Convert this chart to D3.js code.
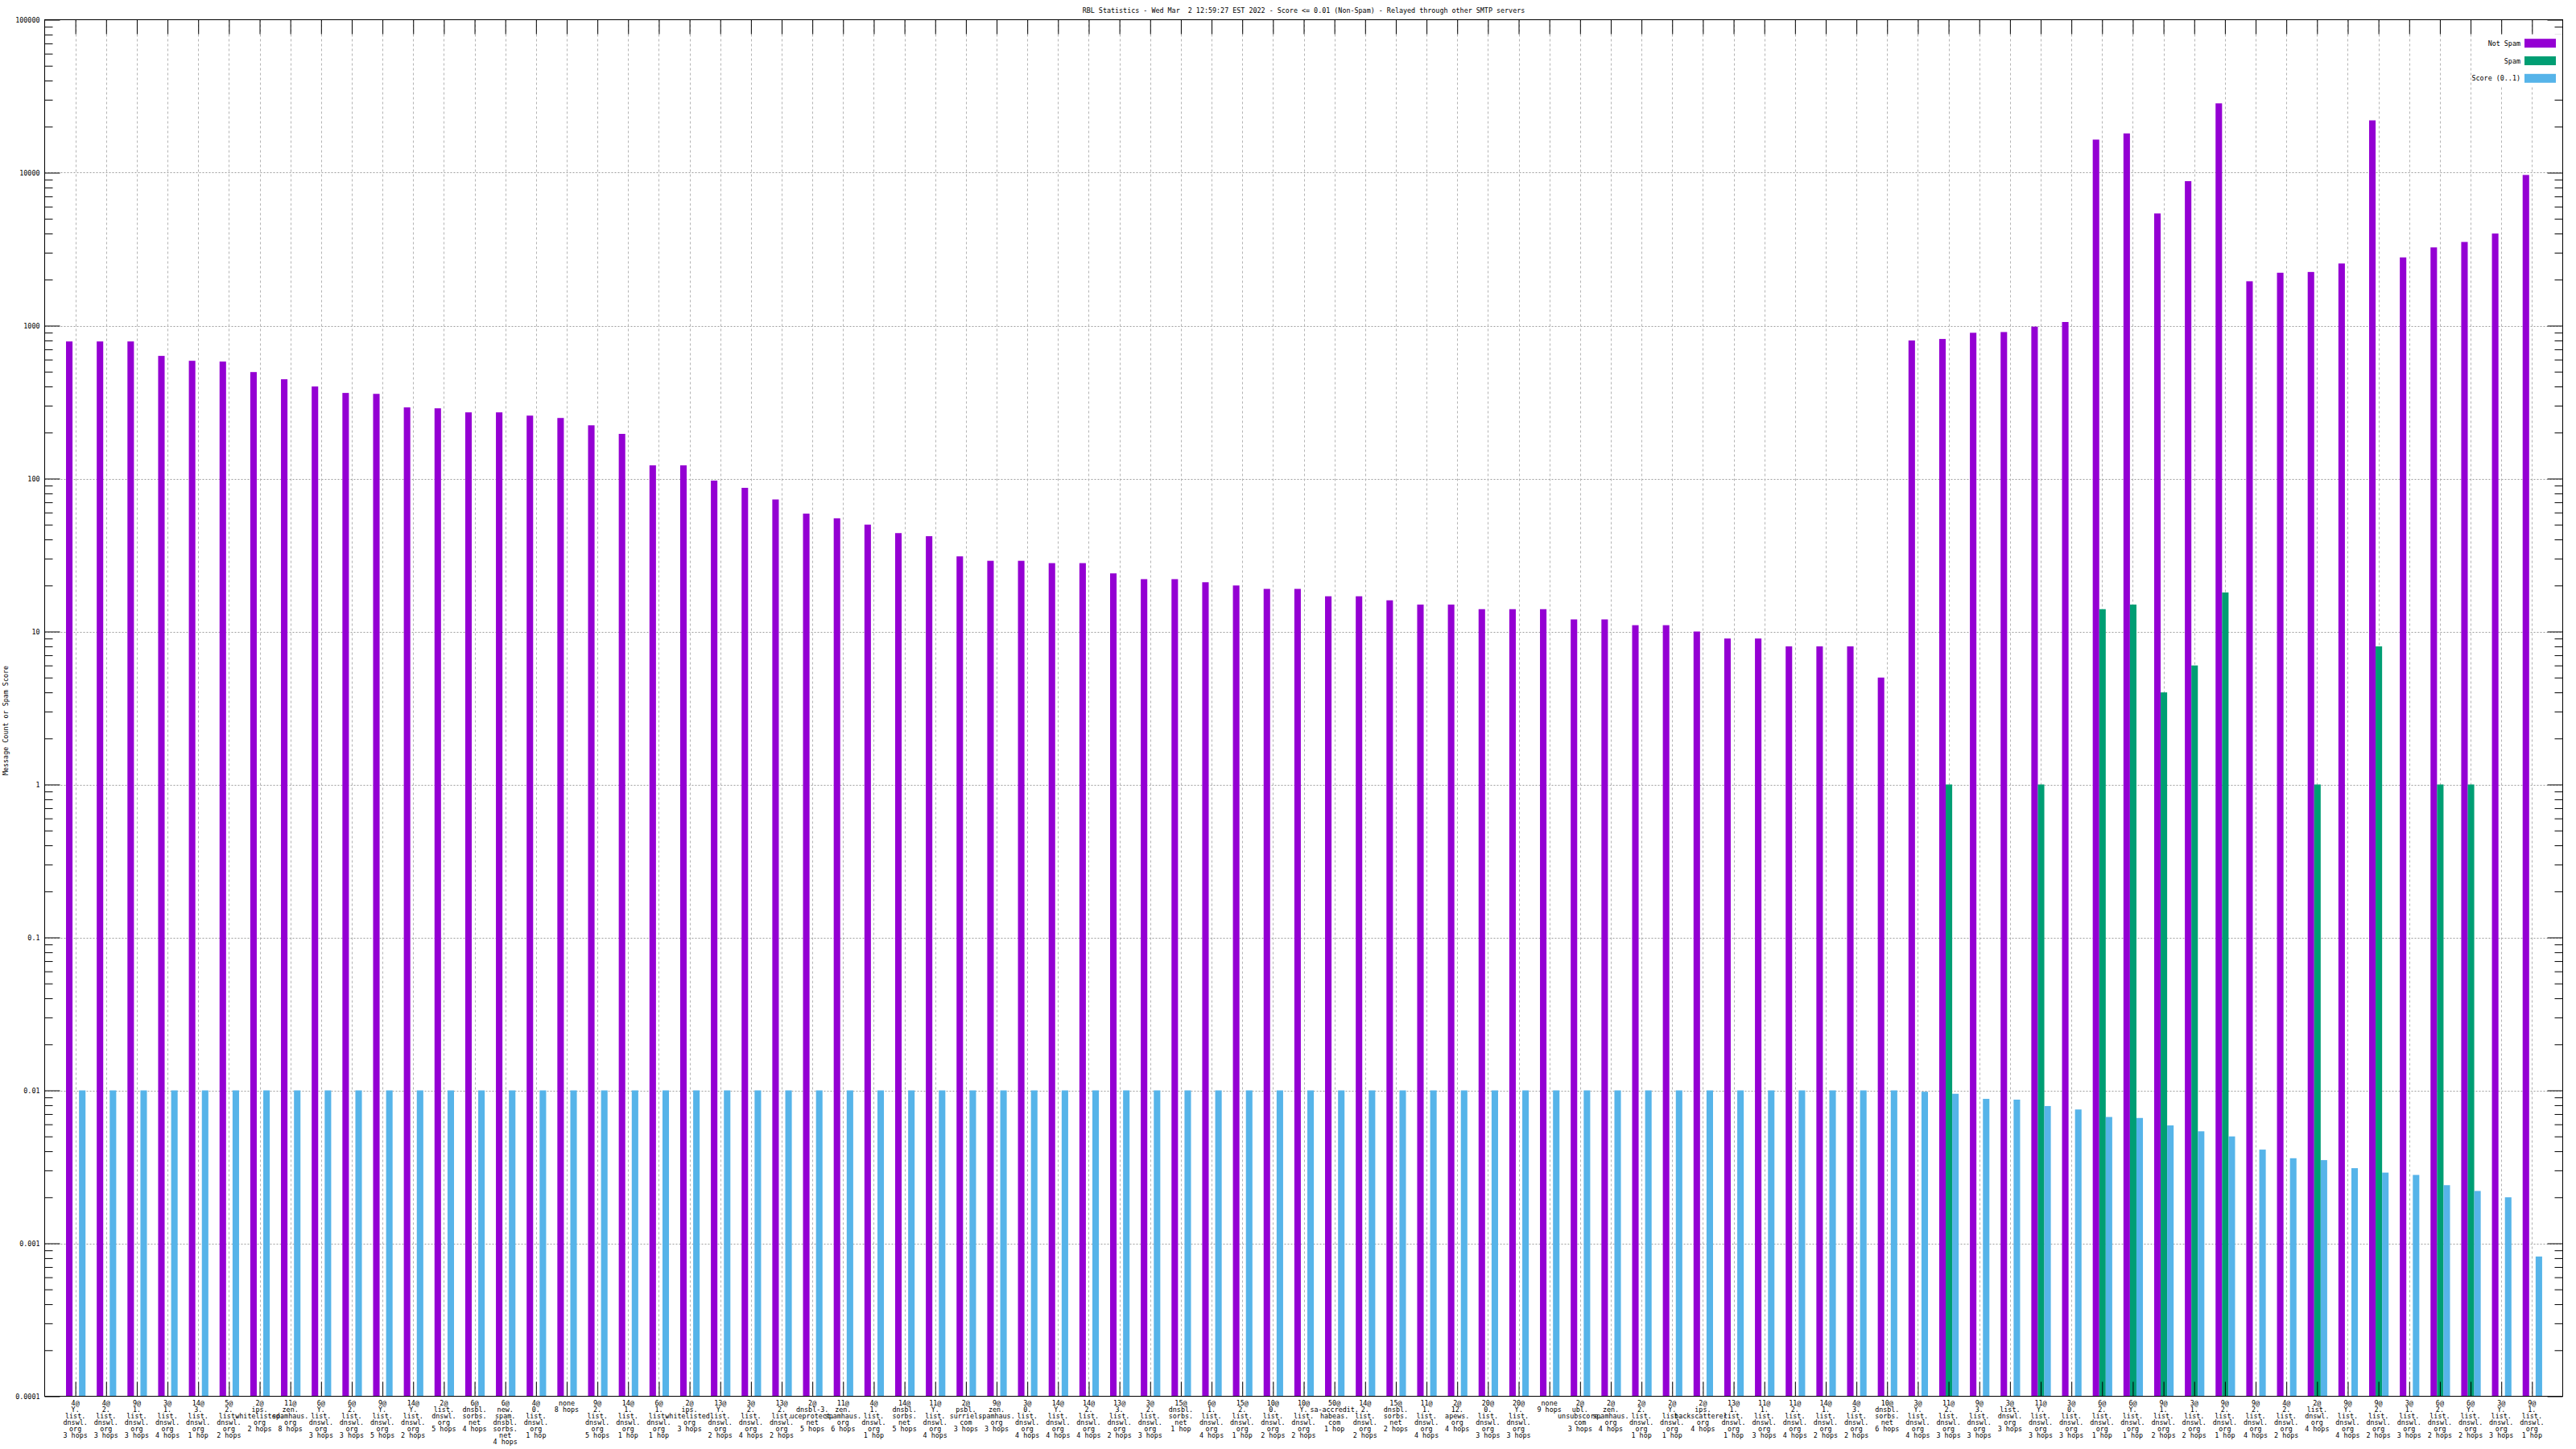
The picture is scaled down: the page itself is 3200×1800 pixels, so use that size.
<!DOCTYPE html>
<html><head><meta charset="utf-8">
<script src="https://cdn.jsdelivr.net/npm/d3@7"></script>
<style>
body{margin:0;background:#fff}
svg{display:block}
text{font-family:"DejaVu Sans Mono",monospace;font-size:8.4px;fill:#000}
</style></head><body>
<svg id="c" width="3200" height="1800"></svg>
<script>
const categories = [
"4@|Y.|list.|dnswl.|org|3 hops","4@|2.|list.|dnswl.|org|3 hops","9@|1.|list.|dnswl.|org|3 hops",
"3@|1.|list.|dnswl.|org|4 hops","14@|3.|list.|dnswl.|org|1 hop","5@|2.|list.|dnswl.|org|2 hops",
"2@|ips.|whitelisted.|org|2 hops","11@|zen.|spamhaus.|org|8 hops","6@|Y.|list.|dnswl.|org|3 hops",
"6@|2.|list.|dnswl.|org|3 hops","9@|Y.|list.|dnswl.|org|5 hops","14@|Y.|list.|dnswl.|org|2 hops",
"2@|list.|dnswl.|org|5 hops","6@|dnsbl.|sorbs.|net|4 hops","6@|new.|spam.|dnsbl.|sorbs.|net|4 hops",
"4@|0.|list.|dnswl.|org|1 hop","none|8 hops","9@|2.|list.|dnswl.|org|5 hops",
"14@|1.|list.|dnswl.|org|1 hop","6@|1.|list.|dnswl.|org|1 hop","2@|ips.|whitelisted.|org|3 hops",
"13@|Y.|list.|dnswl.|org|2 hops","3@|2.|list.|dnswl.|org|4 hops","13@|2.|list.|dnswl.|org|2 hops",
"2@|dnsbl-3.|uceprotect.|net|5 hops","11@|zen.|spamhaus.|org|6 hops","4@|1.|list.|dnswl.|org|1 hop",
"14@|dnsbl.|sorbs.|net|5 hops","11@|Y.|list.|dnswl.|org|4 hops","2@|psbl.|surriel.|com|3 hops",
"9@|zen.|spamhaus.|org|3 hops","3@|0.|list.|dnswl.|org|4 hops","14@|Y.|list.|dnswl.|org|4 hops",
"14@|2.|list.|dnswl.|org|4 hops","13@|3.|list.|dnswl.|org|2 hops","3@|2.|list.|dnswl.|org|3 hops",
"15@|dnsbl.|sorbs.|net|1 hop","6@|1.|list.|dnswl.|org|4 hops","15@|2.|list.|dnswl.|org|1 hop",
"10@|0.|list.|dnswl.|org|2 hops","10@|Y.|list.|dnswl.|org|2 hops","50@|sa-accredit.|habeas.|com|1 hop",
"14@|2.|list.|dnswl.|org|2 hops","15@|dnsbl.|sorbs.|net|2 hops","11@|1.|list.|dnswl.|org|4 hops",
"2@|12.|apews.|org|4 hops","20@|0.|list.|dnswl.|org|3 hops","20@|Y.|list.|dnswl.|org|3 hops",
"none|9 hops","2@|ubl.|unsubscore.|com|3 hops","2@|zen.|spamhaus.|org|4 hops",
"2@|2.|list.|dnswl.|org|1 hop","2@|Y.|list.|dnswl.|org|1 hop","2@|ips.|backscatterer.|org|4 hops",
"13@|1.|list.|dnswl.|org|1 hop","11@|1.|list.|dnswl.|org|3 hops","11@|2.|list.|dnswl.|org|4 hops",
"14@|1.|list.|dnswl.|org|2 hops","4@|3.|list.|dnswl.|org|2 hops","10@|dnsbl.|sorbs.|net|6 hops",
"3@|Y.|list.|dnswl.|org|4 hops","11@|2.|list.|dnswl.|org|3 hops","9@|3.|list.|dnswl.|org|3 hops",
"3@|list.|dnswl.|org|3 hops","11@|Y.|list.|dnswl.|org|3 hops","3@|0.|list.|dnswl.|org|3 hops",
"6@|2.|list.|dnswl.|org|1 hop","6@|Y.|list.|dnswl.|org|1 hop","9@|1.|list.|dnswl.|org|2 hops",
"3@|1.|list.|dnswl.|org|2 hops","9@|2.|list.|dnswl.|org|1 hop","9@|2.|list.|dnswl.|org|4 hops",
"4@|2.|list.|dnswl.|org|2 hops","2@|list.|dnswl.|org|4 hops","9@|Y.|list.|dnswl.|org|4 hops",
"9@|2.|list.|dnswl.|org|2 hops","3@|1.|list.|dnswl.|org|3 hops","6@|2.|list.|dnswl.|org|2 hops",
"6@|Y.|list.|dnswl.|org|2 hops","3@|Y.|list.|dnswl.|org|3 hops","9@|1.|list.|dnswl.|org|1 hop"
];
const notSpam = [
788,788,788,634,589,582,497,446,400,363,358,292,288,271,271,258,249,223,196,122,
122,97,87,73,59,55,50,44,42,31,29,29,28,28,24,22,22,21,20,19,
19,17,17,16,15,15,14,14,14,12,12,11,11,10,9,9,8,8,8,5,
800,818,898,908,985,1056,16450,18060,5410,8800,28400,1950,2217,2243,2548,21980,2793,3247,3524,4000,
9660
];
const spam = [
0,0,0,0,0,0,0,0,0,0,0,0,0,0,0,0,0,0,0,0,
0,0,0,0,0,0,0,0,0,0,0,0,0,0,0,0,0,0,0,0,
0,0,0,0,0,0,0,0,0,0,0,0,0,0,0,0,0,0,0,0,
0,1,0,0,1,0,14,15,4,6,18,0,0,1,0,8,0,1,1,0,
0
];
const score = [
0.01,0.01,0.01,0.01,0.01,0.01,0.01,0.01,0.01,0.01,0.01,0.01,0.01,0.01,0.01,0.01,0.01,0.01,0.01,0.01,
0.01,0.01,0.01,0.01,0.01,0.01,0.01,0.01,0.01,0.01,0.01,0.01,0.01,0.01,0.01,0.01,0.01,0.01,0.01,0.01,
0.01,0.01,0.01,0.01,0.01,0.01,0.01,0.01,0.01,0.01,0.01,0.01,0.01,0.01,0.01,0.01,0.01,0.01,0.01,0.01,
0.0098,0.0095,0.0088,0.0087,0.0079,0.0075,0.0067,0.0066,0.0059,0.0054,0.0050,0.0041,0.0036,0.0035,0.0031,0.0029,0.0028,0.0024,0.0022,0.0020,
0.00082
];
const yTickValues = [1e-4,1e-3,1e-2,1e-1,1,10,100,1000,10000,100000];
const yTickLabels = ["0.0001","0.001","0.01","0.1","1","10","100","1000","10000","100000"];
const seriesNames = ["Not Spam","Spam","Score (0..1)"];
const seriesColors = ["#9400d3","#009e73","#56b4e9"];
const titleText = "RBL Statistics - Wed Mar  2 12:59:27 EST 2022 - Score <= 0.01 (Non-Spam) - Relayed through other SMTP servers";
const yTitle = "Message Count or Spam Score";

const L = 55.5, R = 3183.5, T = 24.5, B = 1734.5;
const svg = d3.select("#c");
const x = d3.scaleLinear().domain([-1, categories.length]).range([L, R]);
const y = d3.scaleLog().domain([1e-4, 1e5]).range([B, T]);
const inner = d3.scaleBand().domain([0,1,2]).range([-0.305, 0.33]);
const series = [notSpam, spam, score];
const idx = d3.range(categories.length);

const minorVals = [];
for (let e = -4; e < 5; e++) for (let m = 2; m <= 9; m++) minorVals.push(m * Math.pow(10, e));

// grid
const grid = svg.append("g").attr("stroke-width", 1);
grid.selectAll("line.h").data(yTickValues.slice(1, -1)).join("line")
  .attr("x1", L).attr("x2", R).attr("y1", d => Math.round(y(d)) + 0.5).attr("y2", d => Math.round(y(d)) + 0.5)
  .attr("stroke", "#a0a0a0").attr("stroke-dasharray", "2,2");
grid.selectAll("line.v").data(idx).join("line")
  .attr("x1", d => Math.round(x(d)) + 0.5).attr("x2", d => Math.round(x(d)) + 0.5).attr("y1", T).attr("y2", B)
  .attr("stroke", "#b4b4b4").attr("stroke-dasharray", "3,3");

// bars
const bars = svg.append("g");
series.forEach((vals, s) => {
  bars.selectAll(null).data(idx.filter(i => vals[i] > 0)).join("rect")
    .attr("x", i => x(i + inner(s)))
    .attr("width", x(inner.bandwidth()) - x(0))
    .attr("y", i => y(vals[i]))
    .attr("height", i => B - y(vals[i]))
    .attr("fill", seriesColors[s]);
});

// axes
function styleAxis(g) {
  g.select(".domain").remove();
  g.selectAll(".tick line").attr("stroke", "#000").attr("stroke-width", 1);
  g.selectAll("text").style("font-family", '"DejaVu Sans Mono",monospace').style("font-size", "8.4px").attr("fill", "#000");
}
svg.append("g").attr("transform", `translate(${L},0)`)
  .call(d3.axisLeft(y).tickValues(yTickValues).tickSize(-19).tickPadding(6).tickFormat((d, i) => yTickLabels[i]))
  .call(styleAxis);
svg.append("g").attr("transform", `translate(${L},0)`)
  .call(d3.axisLeft(y).tickValues(minorVals).tickSize(-10).tickFormat(""))
  .call(styleAxis);
svg.append("g").attr("transform", `translate(${R},0)`)
  .call(d3.axisRight(y).tickValues(yTickValues).tickSize(-19).tickFormat(""))
  .call(styleAxis);
svg.append("g").attr("transform", `translate(${R},0)`)
  .call(d3.axisRight(y).tickValues(minorVals).tickSize(-10).tickFormat(""))
  .call(styleAxis);
svg.append("g").attr("transform", `translate(0,${B})`)
  .call(d3.axisBottom(x).tickValues(idx).tickSize(-18).tickFormat(""))
  .call(styleAxis);
svg.append("g").attr("transform", `translate(0,${T})`)
  .call(d3.axisTop(x).tickValues(idx).tickSize(-18).tickFormat(""))
  .call(styleAxis);

// x labels (multi-line)
const xl = svg.append("g");
idx.forEach(i => {
  const t = xl.append("text").attr("text-anchor", "middle").attr("x", x(i));
  categories[i].split("|").forEach((ln, k) => {
    t.append("tspan").attr("x", x(i)).attr("y", 1746.3 + k * 8).text(ln);
  });
});

// border
svg.append("rect").attr("x", L).attr("y", T).attr("width", R - L).attr("height", B - T)
  .attr("fill", "none").attr("stroke", "#000").attr("stroke-width", 1);

// legend
const lg = svg.append("g");
lg.append("rect").attr("x", 3071).attr("y", 43).attr("width", R - 3071 - 0.5).attr("height", 65).attr("fill", "#fff");
seriesNames.forEach((n, k) => {
  const cy = 53.7 + k * 21.8;
  lg.append("text").attr("x", 3131).attr("y", cy + 3).attr("text-anchor", "end").text(n);
  lg.append("rect").attr("x", 3136).attr("y", cy - 5.5).attr("width", 39).attr("height", 11).attr("fill", seriesColors[k]);
});

// titles
svg.append("text").attr("x", (L + R) / 2).attr("y", 15.5).attr("text-anchor", "middle")
  .attr("xml:space", "preserve").style("white-space", "pre").text(titleText);
svg.append("text").attr("transform", "translate(10,895) rotate(-90)").attr("text-anchor", "middle").text(yTitle);
</script>
</body></html>
